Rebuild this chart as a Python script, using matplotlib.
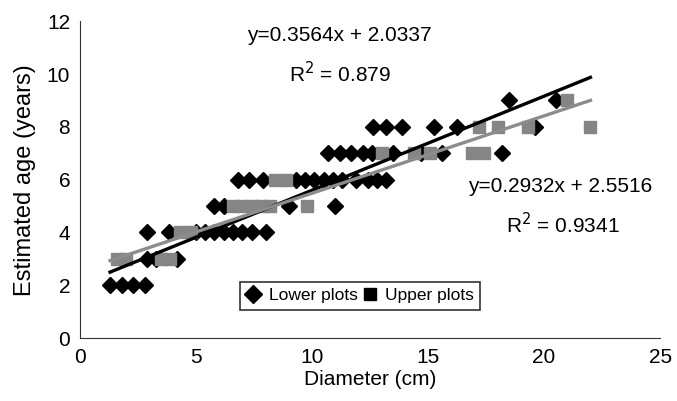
import matplotlib.pyplot as plt
from matplotlib.lines import Line2D

plt.rcParams['font.family'] = ['Liberation Sans', 'DejaVu Sans']

# Lower plots (diamonds)
lower_x = [1.3, 1.8, 2.3, 2.8,
           2.9, 3.3, 4.2,
           2.9, 3.85, 5.0, 5.4, 5.8, 6.2, 6.6, 7.0, 7.4, 8.0,
           5.8, 6.2, 9.0, 11.0,
           6.8, 7.3, 7.9, 9.3, 9.7, 10.1, 10.5, 10.9, 11.3, 11.9, 12.4, 12.8, 13.2,
           10.7, 11.2, 11.7, 12.2, 12.6, 13.5, 14.7, 15.6, 18.2,
           12.65, 13.2, 13.9, 15.25, 16.25, 19.6,
           18.5, 20.5]
lower_y = [2, 2, 2, 2,
           3, 3, 3,
           4, 4, 4, 4, 4, 4, 4, 4, 4, 4,
           5, 5, 5, 5,
           6, 6, 6, 6, 6, 6, 6, 6, 6, 6, 6, 6, 6,
           7, 7, 7, 7, 7, 7, 7, 7, 7,
           8, 8, 8, 8, 8, 8,
           9, 9]

# Upper plots (squares)
upper_x = [1.6, 2.0, 3.5, 3.9,
           4.3, 4.8,
           6.6, 7.0, 7.4, 7.8, 8.2, 9.8,
           8.4, 8.9,
           13.0, 14.4, 15.1, 16.9, 17.4,
           17.2, 18.0, 19.3, 22.0,
           21.0]
upper_y = [3, 3, 3, 3,
           4, 4,
           5, 5, 5, 5, 5, 5,
           6, 6,
           7, 7, 7, 7, 7,
           8, 8, 8, 8,
           9]

# Trendlines (as reported)
lower_fit = (0.3564, 2.0337)
upper_fit = (0.2932, 2.5516)
line_x = [1.3, 22.0]

fig = plt.figure(figsize=(6.77, 4.01), dpi=100)
ax = fig.add_axes([0.118, 0.157, 0.857, 0.79])

ax.plot(lower_x, lower_y, linestyle='none', marker='D', color='black', ms=8.5)
ax.plot(upper_x, upper_y, linestyle='none', marker='s', color='#858585', ms=9)

ax.plot(line_x, [lower_fit[0] * x + lower_fit[1] for x in line_x], color='black', lw=2.4)
ax.plot(line_x, [upper_fit[0] * x + upper_fit[1] for x in line_x], color='#8c8c8c', lw=2.4)

ax.set_xlim(0, 25)
ax.set_ylim(0, 12)
ax.set_xticks([0, 5, 10, 15, 20, 25])
ax.set_yticks([0, 2, 4, 6, 8, 10, 12])
ax.tick_params(length=0, labelsize=15, pad=7)
for s in ['top', 'right']:
    ax.spines[s].set_visible(False)
for s in ['left', 'bottom']:
    ax.spines[s].set_color('#333333')
ax.set_xlabel('Diameter (cm)', fontsize=15, labelpad=2)
ax.set_ylabel('Estimated age (years)', fontsize=17, labelpad=8)

ax.text(11.2, 11.45, 'y=0.3564x + 2.0337', fontsize=15, ha='center', va='center')
ax.text(11.2, 10.0, 'R$^2$ = 0.879', fontsize=15, ha='center', va='center')
ax.text(20.7, 5.75, 'y=0.2932x + 2.5516', fontsize=15, ha='center', va='center')
ax.text(20.8, 4.3, 'R$^2$ = 0.9341', fontsize=15, ha='center', va='center')

handles = [Line2D([], [], linestyle='none', marker='D', color='black', ms=9),
           Line2D([], [], linestyle='none', marker='s', color='black', ms=9)]
leg = ax.legend(handles, ['Lower plots', 'Upper plots'], ncol=2, loc='center',
                bbox_to_anchor=(0.483, 0.133), fontsize=12.5, frameon=True, fancybox=False,
                handlelength=0.8, handletextpad=0.5, columnspacing=0.3, borderpad=0.35)
leg.get_frame().set_edgecolor('black')
leg.get_frame().set_linewidth(1.2)

fig.savefig('out.png', dpi=100)
